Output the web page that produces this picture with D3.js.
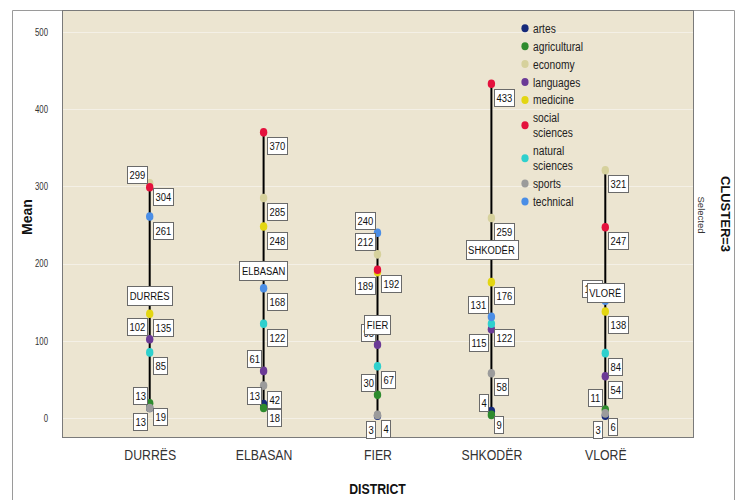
<!DOCTYPE html>
<html>
<head>
<meta charset="utf-8">
<script src="https://cdn.jsdelivr.net/npm/d3@7/dist/d3.min.js"></script>
<style>
  body { margin: 0; background: #ffffff; }
  svg { display: block; }
</style>
</head>
<body>
<div id="chart"></div>
<script>
// Chart data
var districts = ["DURRËS", "ELBASAN", "FIER", "SHKODËR", "VLORË"];
var fields = ["artes", "agricultural", "economy", "languages", "medicine",
              "social sciences", "natural sciences", "sports", "technical"];
var meanArtes       = [13, 18, 3, 9, 3];
var meanAgricultural = [19, 13, 30, 4, 11];
var meanEconomy     = [304, 285, 212, 259, 321];
var meanLanguages   = [102, 61, 95, 115, 54];
var meanMedicine    = [135, 248, 189, 176, 138];
var meanSocial      = [299, 370, 192, 433, 247];
var meanNatural     = [85, 122, 67, 122, 84];
var meanSports      = [13, 42, 4, 58, 6];
var meanTechnical   = [261, 168, 240, 131, 152];
var yTicks = [0, 100, 200, 300, 400, 500];

var fieldValues = [meanArtes, meanAgricultural, meanEconomy, meanLanguages, meanMedicine,
                   meanSocial, meanNatural, meanSports, meanTechnical];
var fieldColors = ["#15297a", "#2e8b2e", "#d6d19c", "#6b3a96", "#e3d612",
                   "#e4113c", "#2fd0cd", "#9b9b9b", "#4b8ee6"];

// Sizing
var W = 743, H = 500;
var plot = {left: 62, right: 693, top: 10, bottom: 437};
var font = "'Liberation Sans', Arial, sans-serif";
var squeeze = 0.82;   // the original picture is horizontally condensed

var svg = d3.select("#chart")
    .append("svg")
    .attr("width", W)
    .attr("height", H);

// Horizontal text drawn condensed
function squeezedText(parent, x, y, str, size) {
    return parent.append("g")
        .attr("transform", "translate(" + x + "," + y + ") scale(" + squeeze + ",1)")
        .append("text")
        .style("font-family", font)
        .style("font-size", size + "px")
        .text(str);
}

// Scales
var x = d3.scalePoint()
    .domain(districts)
    .range([plot.left, plot.right])
    .padding(0.77);

var y = d3.scaleLinear()
    .domain([-24.6, 528.5])
    .range([plot.bottom, plot.top]);

// Outer frame
svg.append("path")
    .attr("fill", "none")
    .attr("stroke", "#9a9a9a")
    .attr("d", "M12.5," + H + "V10.5H734.5V" + H);

// Plot background
svg.append("rect")
    .attr("x", plot.left + 0.5)
    .attr("y", plot.top + 0.5)
    .attr("width", plot.right - plot.left)
    .attr("height", plot.bottom - plot.top)
    .attr("fill", "#ece5d1");

// Grid lines
svg.append("g")
    .selectAll("line")
    .data(yTicks)
    .join("line")
    .attr("x1", plot.left + 1)
    .attr("x2", plot.right)
    .attr("y1", function(d) { return Math.round(y(d)) + 0.5; })
    .attr("y2", function(d) { return Math.round(y(d)) + 0.5; })
    .attr("stroke", "#f4f0e6")
    .attr("stroke-width", 1);

svg.append("rect")
    .attr("x", plot.left + 0.5)
    .attr("y", plot.top + 0.5)
    .attr("width", plot.right - plot.left)
    .attr("height", plot.bottom - plot.top)
    .attr("fill", "none")
    .attr("stroke", "#7a7a7a");

// Y axis (labels only)
var yAxis = svg.append("g")
    .attr("transform", "translate(" + (plot.left - 14) + ",0)")
    .call(d3.axisLeft(y).tickValues(yTicks).tickSize(0).tickPadding(0));
yAxis.select(".domain").remove();
yAxis.selectAll("text")
    .attr("fill", "#333")
    .attr("transform", "scale(0.78,1)")
    .style("font-family", font)
    .style("font-size", "10px");

// X axis (labels only)
var xAxis = svg.append("g")
    .attr("transform", "translate(0," + plot.bottom + ")")
    .call(d3.axisBottom(x).tickSize(0).tickPadding(12));
xAxis.select(".domain").remove();
xAxis.selectAll("text")
    .attr("fill", "#333")
    .attr("transform", "scale(" + squeeze + ",1)")
    .style("font-family", font)
    .style("font-size", "15px");

// Axis titles
svg.append("text")
    .attr("transform", "translate(32,217) rotate(-90)")
    .attr("text-anchor", "middle")
    .style("font-family", font)
    .style("font-size", "14px")
    .style("font-weight", "bold")
    .attr("fill", "#111")
    .text("Mean");

squeezedText(svg, (plot.left + plot.right) / 2, 494, "DISTRICT", 15)
    .attr("text-anchor", "middle")
    .style("font-weight", "bold")
    .attr("fill", "#111");

// Panel strip labels
svg.append("text")
    .attr("transform", "translate(720.5,214) rotate(90)")
    .attr("text-anchor", "middle")
    .style("font-family", font)
    .style("font-size", "13px")
    .style("font-weight", "bold")
    .attr("fill", "#111")
    .text("CLUSTER=3");

svg.append("text")
    .attr("transform", "translate(697.5,215) rotate(90)")
    .attr("text-anchor", "middle")
    .style("font-family", font)
    .style("font-size", "9.5px")
    .attr("fill", "#333")
    .text("Selected");

// Build point rows per district
var rows = districts.map(function(d, i) {
    var pts = fields.map(function(f, j) {
        return {district: d, field: f, value: fieldValues[j][i], color: fieldColors[j]};
    });
    return {district: d, points: pts,
            min: d3.min(pts, function(p) { return p.value; }),
            max: d3.max(pts, function(p) { return p.value; })};
});

// Drop lines
svg.append("g")
    .selectAll("line")
    .data(rows)
    .join("line")
    .attr("x1", function(d) { return x(d.district); })
    .attr("x2", function(d) { return x(d.district); })
    .attr("y1", function(d) { return y(d.min); })
    .attr("y2", function(d) { return y(d.max); })
    .attr("stroke", "#000")
    .attr("stroke-width", 2);

// Points
var rx = 3.7, ry = 4.3;
var allPoints = [].concat.apply([], rows.map(function(r) { return r.points; }));
svg.append("g")
    .selectAll("ellipse")
    .data(allPoints)
    .join("ellipse")
    .attr("cx", function(d) { return x(d.district); })
    .attr("cy", function(d) { return y(d.value); })
    .attr("rx", rx)
    .attr("ry", ry)
    .attr("fill", function(d) { return d.color; });

// Value labels, placed greedily: avoid other labels first, then dot centres
var labelLayer = svg.append("g");
function overlaps(a, b) {
    return a.x < b.x + b.w && b.x < a.x + a.w && a.y < b.y + b.h && b.y < a.y + a.h;
}
rows.forEach(function(r) {
    var placed = [];
    var sorted = r.points.slice().sort(function(a, b) { return b.value - a.value; });
    sorted.forEach(function(p) {
        var cx = x(p.district), cy = y(p.value);
        var g = labelLayer.append("g");
        var rect = g.append("rect").attr("fill", "#fff").attr("stroke", "#6a6a6a");
        var t = squeezedText(g, 0, 0, p.value, 11.5).attr("fill", "#111");
        var tw = t.node().getComputedTextLength() * squeeze;
        var w = Math.round(tw + 4), h = 17;
        var cands = [
            {x: cx + 3, y: cy + 5},
            {x: cx - 3 - w, y: cy - 4 - h},
            {x: cx - 3 - w, y: cy + 5},
            {x: cx + 3, y: cy - 4 - h}
        ];
        var best = cands[0], bestCost = Infinity;
        cands.forEach(function(c) {
            var box = {x: c.x, y: c.y, w: w, h: h};
            var cost = placed.filter(function(b) { return overlaps(box, b); }).length;
            r.points.forEach(function(q) {
                if (q === p) return;
                var qy = y(q.value);
                var hitX = box.x < cx + rx + 0.5 && cx - rx - 0.5 < box.x + box.w;
                if (hitX && qy > box.y && qy < box.y + box.h) cost += 0.3;
            });
            if (cost < bestCost) { bestCost = cost; best = c; }
        });
        placed.push({x: best.x, y: best.y, w: w, h: h});
        var bx = Math.round(best.x), by = Math.round(best.y);
        rect.attr("x", bx + 0.5).attr("y", by + 0.5).attr("width", w).attr("height", h);
        d3.select(t.node().parentNode)
            .attr("transform", "translate(" + (bx + 2.5) + "," + (by + 13) + ") scale(" + squeeze + ",1)");
    });
});

// District name boxes at middle of each drop line
var nameLayer = svg.append("g");
rows.forEach(function(r) {
    var cx = x(r.district), cy = y((r.min + r.max) / 2);
    var g = nameLayer.append("g");
    var rect = g.append("rect").attr("fill", "#fff").attr("stroke", "#6a6a6a");
    var t = squeezedText(g, cx, cy + 4.5, r.district, 11.5)
        .attr("text-anchor", "middle")
        .attr("fill", "#111");
    var w = t.node().getComputedTextLength() * squeeze + 5, h = 19;
    rect.attr("x", Math.round(cx - w / 2) + 0.5).attr("y", Math.round(cy - h / 2) + 0.5)
        .attr("width", Math.round(w)).attr("height", h);
});

// Legend
var legend = svg.append("g");
var ly = 28.3;
fields.forEach(function(f, j) {
    var lines = f.indexOf(" ") > 0 ? f.split(" ") : [f];
    var mid = ly + (lines.length - 1) * 15 / 2;
    legend.append("ellipse")
        .attr("cx", 525)
        .attr("cy", mid)
        .attr("rx", 3.6)
        .attr("ry", 4)
        .attr("fill", fieldColors[j]);
    lines.forEach(function(s, k) {
        squeezedText(legend, 533, ly + k * 15 + 4.5, s, 12.5).attr("fill", "#222");
    });
    ly += 17.9 + (lines.length - 1) * 15;
});
</script>
</body>
</html>
